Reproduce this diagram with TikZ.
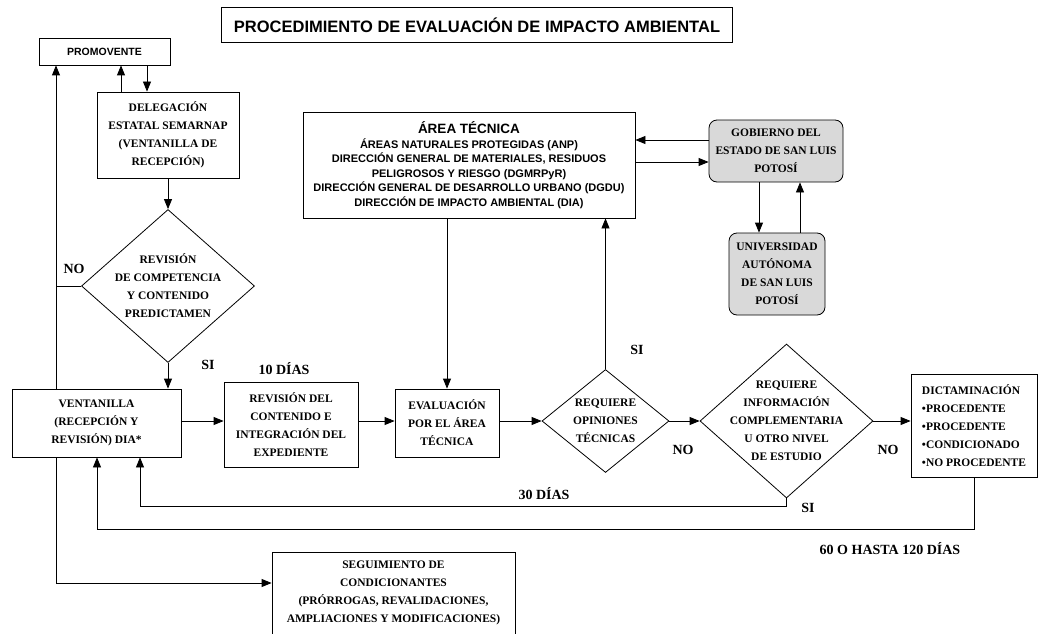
\documentclass[tikz,border=0pt]{standalone}
\usepackage{fontspec}
\setmainfont{Liberation Serif}
\setsansfont{Liberation Sans}
\usetikzlibrary{shapes.geometric,arrows.meta}

\begin{document}
\begin{tikzpicture}[x=1pt,y=-1pt,
  line width=0.8pt,
  arr/.style={-{Triangle[length=10pt,width=8pt]}},
  caja/.style={draw, align=center, font=\bfseries\fontsize{11.5}{18}\selectfont},
  rombo/.style={draw, diamond, align=center, font=\bfseries\fontsize{11.5}{18}\selectfont},
  gris/.style={caja, rounded corners=8pt, fill=black!15},
  etiq/.style={font=\bfseries\fontsize{14}{16}\selectfont},
  sans/.style={draw, align=center, font=\sffamily\bfseries}]

  \useasboundingbox (0,0) rectangle (1039,634);

  % Titulo
  \node[sans, minimum width=511, minimum height=35, font=\sffamily\bfseries\fontsize{16.5}{18}\selectfont] (tit) at (477,25) {PROCEDIMIENTO DE EVALUACIÓN DE IMPACTO AMBIENTAL};

  % Columna izquierda
  \node[sans, minimum width=131, minimum height=27, font=\sffamily\bfseries\fontsize{10.5}{12}\selectfont] (prom) at (104.5,51.5) {PROMOVENTE};
  \node[caja, minimum width=142, minimum height=86] (deleg) at (168,135) {DELEGACIÓN\\ESTATAL SEMARNAP\\(VENTANILLA DE\\RECEPCIÓN)};
  \node[rombo, minimum width=173, minimum height=153, inner sep=-8pt] (rev) at (168,286) {REVISIÓN\\DE COMPETENCIA\\Y CONTENIDO\\PREDICTAMEN};
  \node[caja, minimum width=169, minimum height=68] (vent) at (96.5,423) {VENTANILLA\\(RECEPCIÓN Y\\REVISIÓN) DIA*};

  % Fila central
  \node[caja, minimum width=134, minimum height=85] (cont) at (291,425) {REVISIÓN DEL\\CONTENIDO E\\INTEGRACIÓN DEL\\EXPEDIENTE};
  \node[caja, minimum width=104, minimum height=68] (eval) at (447,423) {EVALUACIÓN\\POR EL ÁREA\\TÉCNICA};
  \node[rombo, minimum width=127, minimum height=103, inner sep=-7pt] (opin) at (605.5,421) {REQUIERE\\OPINIONES\\TÉCNICAS};
  \node[rombo, minimum width=173, minimum height=154, inner sep=-16pt] (info) at (786.5,421) {REQUIERE\\INFORMACIÓN\\COMPLEMENTARIA\\U OTRO NIVEL\\DE ESTUDIO};
  \node[caja, align=left, minimum width=126, minimum height=103] (dict) at (974,425.5) {DICTAMINACIÓN\\•PROCEDENTE\\•PROCEDENTE\\•CONDICIONADO\\•NO PROCEDENTE};

  % Area tecnica y apoyo externo
  \node[draw, align=center, minimum width=332, minimum height=106, font=\sffamily\bfseries\fontsize{11}{14.5}\selectfont] (area) at (469,165) {{\fontsize{13.5}{15}\selectfont ÁREA TÉCNICA}\\ÁREAS NATURALES PROTEGIDAS (ANP)\\DIRECCIÓN GENERAL DE MATERIALES, RESIDUOS\\PELIGROSOS Y RIESGO (DGMRPyR)\\DIRECCIÓN GENERAL DE DESARROLLO URBANO (DGDU)\\DIRECCIÓN DE IMPACTO AMBIENTAL (DIA)};
  \node[gris, minimum width=134, minimum height=62] (gob) at (776,151) {GOBIERNO DEL\\ESTADO DE SAN LUIS\\POTOSÍ};
  \node[gris, minimum width=96, minimum height=82] (univ) at (777,274) {UNIVERSIDAD\\AUTÓNOMA\\DE SAN LUIS\\POTOSÍ};

  % Seguimiento
  \node[caja, minimum width=243, minimum height=82] (seg) at (393.5,593) {SEGUIMIENTO DE\\CONDICIONANTES\\(PRÓRROGAS, REVALIDACIONES,\\AMPLIACIONES Y MODIFICACIONES)};

  % Etiquetas
  \node[etiq] (no1) at (74,269) {NO};
  \node[etiq] (si1) at (208,365) {SI};
  \node[etiq] (d10) at (284,369) {10 DÍAS};
  \node[etiq] (si2) at (637,350) {SI};
  \node[etiq] (no2) at (683,450) {NO};
  \node[etiq] (no3) at (888,450) {NO};
  \node[etiq] (d30) at (544,494) {30 DÍAS};
  \node[etiq] (si3) at (808,508) {SI};
  \node[etiq] (d60) at (890,549) {60 O HASTA 120 DÍAS};

  % Conectores
  \coordinate (xl) at (56,0);
  \coordinate (xp1) at (121,0);
  \coordinate (xp2) at (147,0);
  \coordinate (fila) at (0,421);
  \draw[arr] (deleg.north -| xp1) -- (prom.south -| xp1);
  \draw[arr] (prom.south -| xp2) -- (deleg.north -| xp2);
  \draw[arr] (deleg.south) -- (rev.north);
  \draw[arr] (rev.south) -- (rev.south |- vent.north);
  \draw (rev.west) -- (rev.west -| xl);
  \draw[arr] (vent.north -| xl) -- (prom.south -| xl);
  \draw[arr] (vent.east |- fila) -- (cont.west |- fila);
  \draw[arr] (cont.east |- fila) -- (eval.west |- fila);
  \draw[arr] (eval.east |- fila) -- (opin.west);
  \draw[arr] (opin.east) -- (info.west);
  \draw[arr] (info.east) -- (info.east -| dict.west);
  \draw[arr] (opin.north) -- (opin.north |- area.south);
  \draw[arr] (eval.north |- area.south) -- (eval.north);

  \coordinate (g1) at ([yshift=11]gob.west);
  \coordinate (g2) at ([yshift=-11]gob.west);
  \draw[arr] (g1) -- (g1 -| area.east);
  \draw[arr] (g2 -| area.east) -- (g2);
  \coordinate (u1) at ([xshift=-17]gob.south);
  \coordinate (u2) at ([xshift=24]gob.south);
  \draw[arr] (u1) -- (u1 |- univ.north);
  \draw[arr] (u2 |- univ.north) -- (u2);

  % Retornos
  \coordinate (t30) at (140,506);
  \coordinate (t60) at (97,529);
  \draw[arr] (info.south) |- (t30) -- (t30 |- vent.south);
  \draw[arr] (dict.south) |- (t60) -- (t60 |- vent.south);
  \draw[arr] (vent.south -| xl) |- ([yshift=10]seg.west);
\end{tikzpicture}
\end{document}
